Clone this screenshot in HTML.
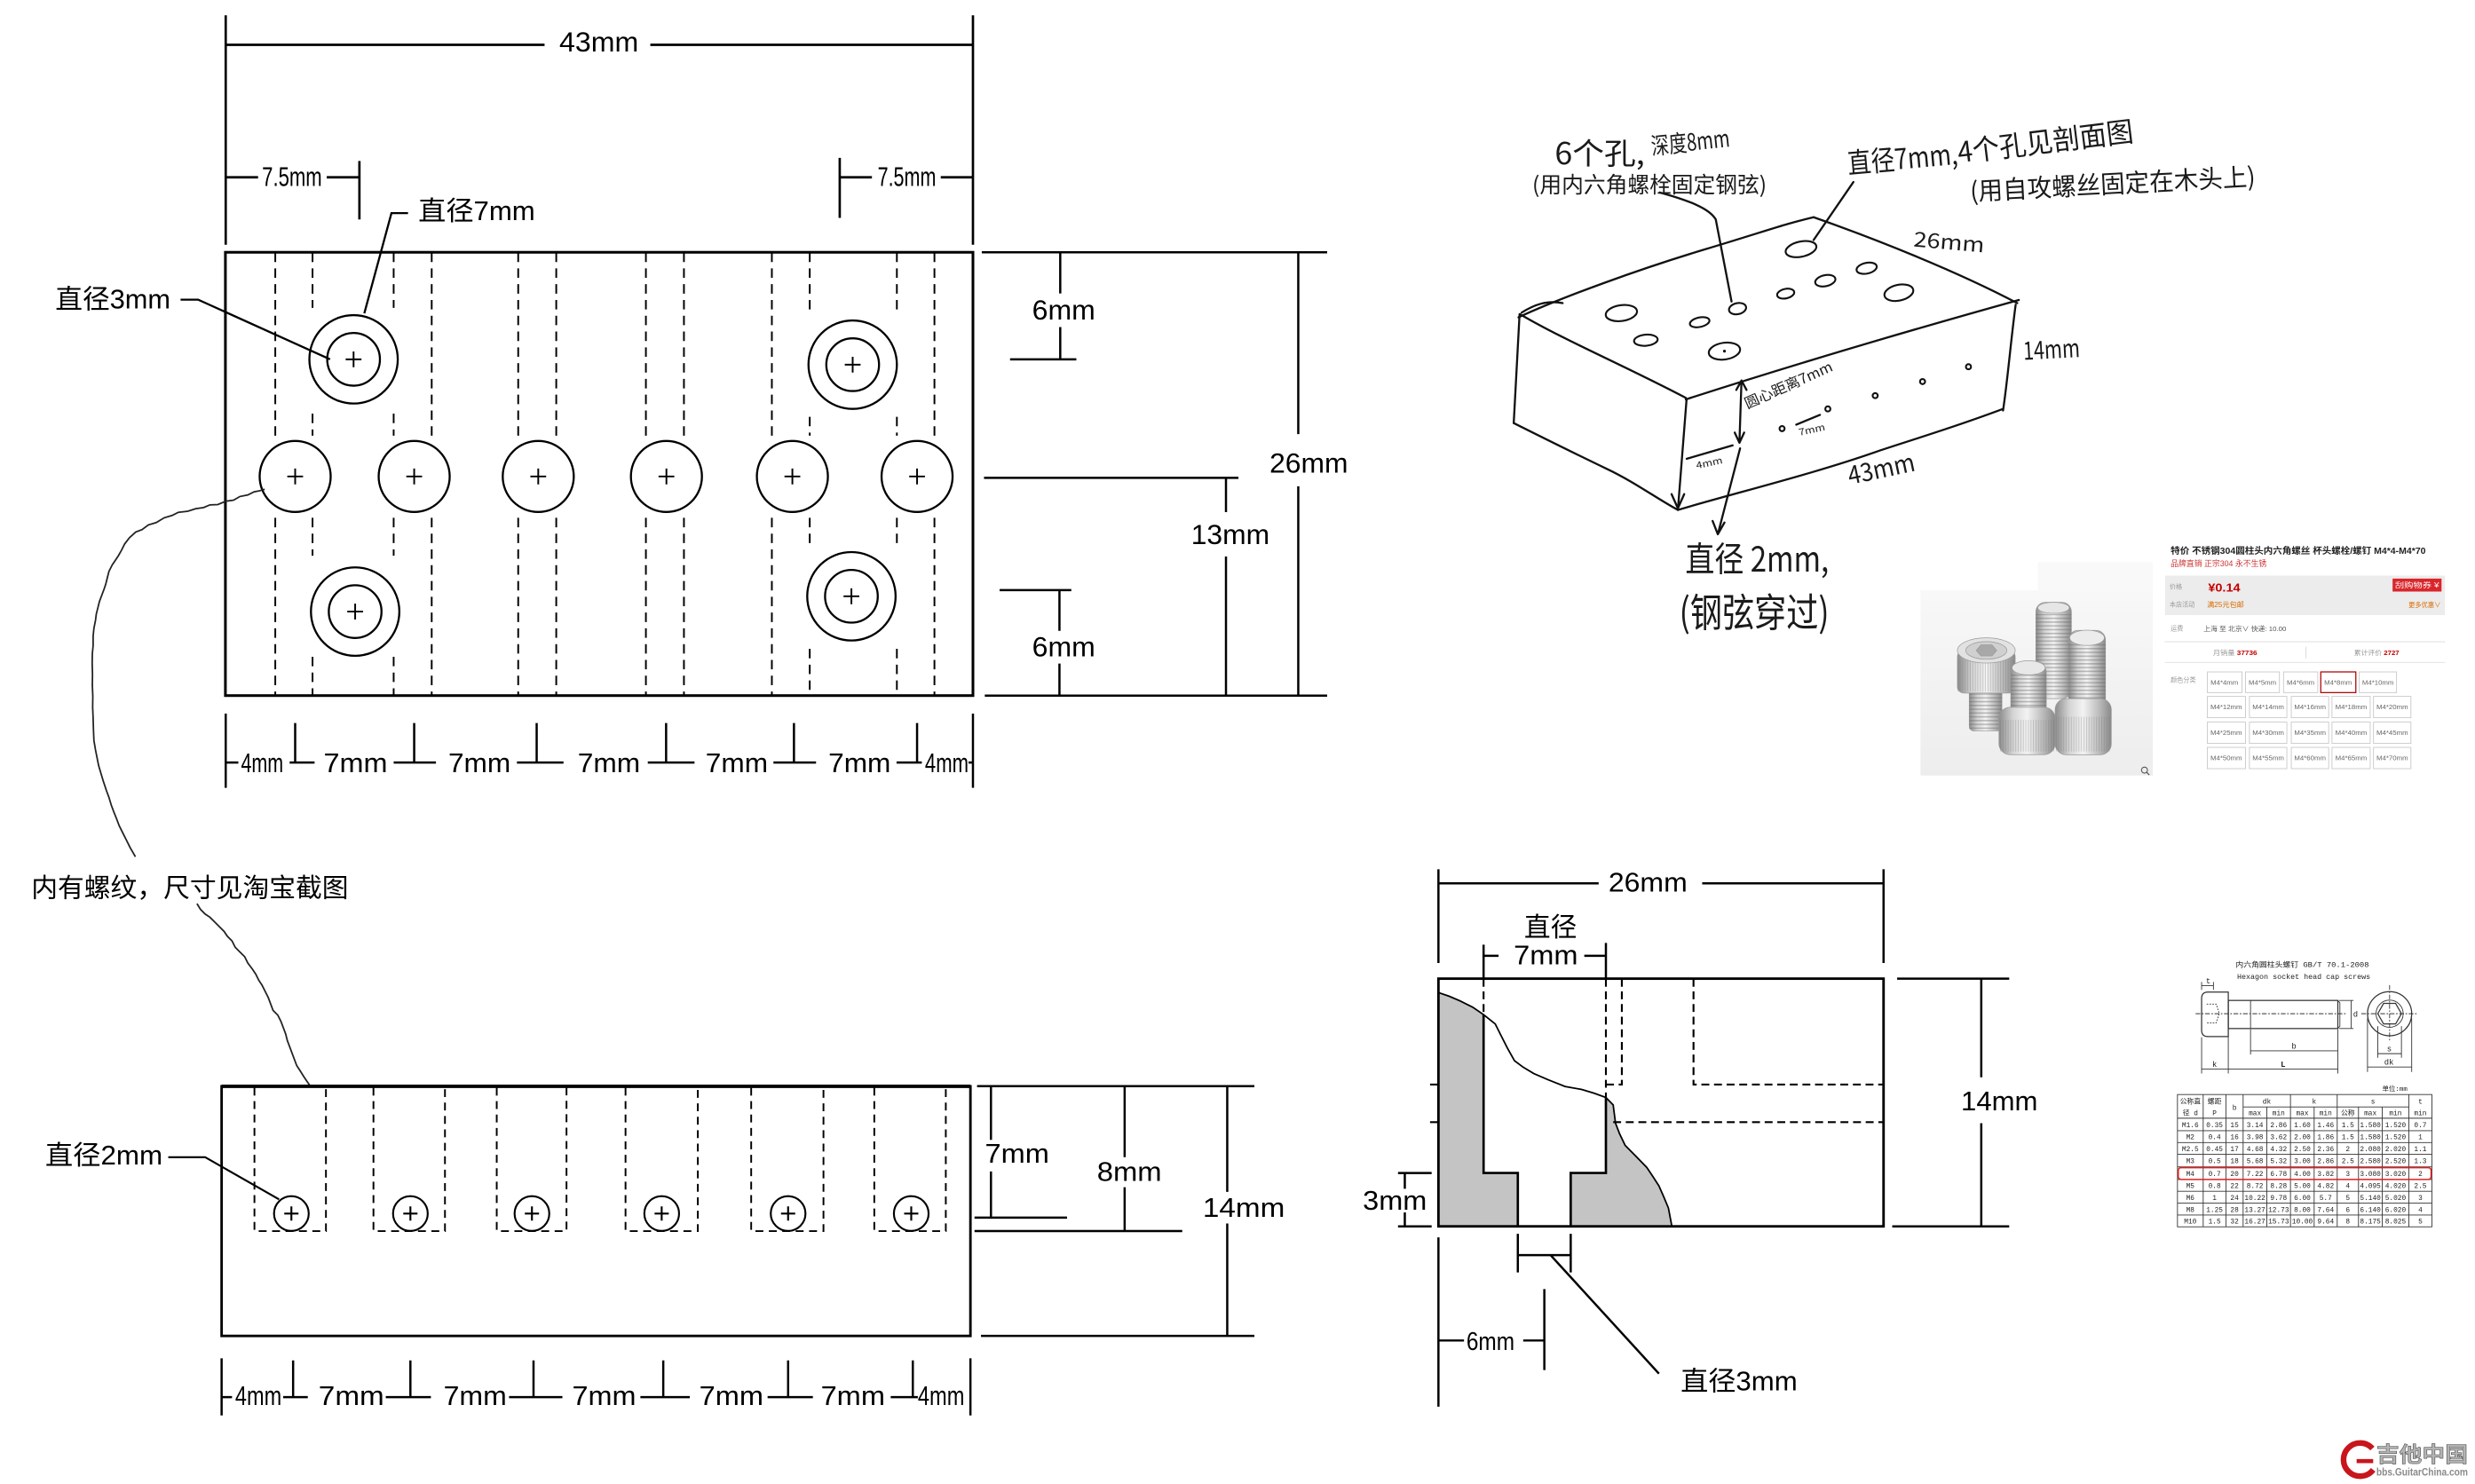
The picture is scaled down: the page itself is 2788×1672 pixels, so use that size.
<!DOCTYPE html>
<html><head><meta charset="utf-8">
<style>
html,body{margin:0;padding:0;background:#fff;}
svg{display:block;}
text{font-family:"Liberation Sans","Noto Sans CJK SC",sans-serif;fill:#000;}
.h{font-family:"Noto Sans CJK SC","WenQuanYi Zen Hei",sans-serif;fill:#1a1a1a;}
.m{font-family:"Liberation Mono","Noto Sans CJK SC",monospace;fill:#222;}
</style></head><body>
<svg width="2788" height="1672" viewBox="0 0 1568 940" preserveAspectRatio="none" xmlns="http://www.w3.org/2000/svg">
<defs>
<linearGradient id="photo" x1="0" y1="0" x2="0" y2="1"><stop offset="0" stop-color="#f8f8f8"/><stop offset="1" stop-color="#ededed"/></linearGradient>
<linearGradient id="silver" x1="0" y1="0" x2="1" y2="0"><stop offset="0" stop-color="#8c8c8c"/><stop offset="0.25" stop-color="#d4d4d4"/><stop offset="0.5" stop-color="#f3f3f3"/><stop offset="0.78" stop-color="#bcbcbc"/><stop offset="1" stop-color="#8a8a8a"/></linearGradient>
<pattern id="thread" width="4" height="2.4" patternUnits="userSpaceOnUse"><rect width="4" height="0.9" fill="#666" opacity="0.4"/></pattern>
<pattern id="knurl" width="1.6" height="4" patternUnits="userSpaceOnUse"><rect width="0.5" height="4" fill="#777" opacity="0.35"/></pattern>
</defs>
<rect width="1568" height="940" fill="#fff"/>

<!-- ================= TOP VIEW ================= -->
<g stroke="#000" stroke-width="1.5" fill="none">
<path d="M143,9.7V155M616.4,9.7V155M143,28.4H345M412,28.4H616.4"/>
<path d="M143,112.3H163.5M207,112.3H227.7M227.7,102V139"/>
<path d="M532,100V138M532,112.3H552.4M596,112.3H616.4"/>
<path d="M258.5,135H248L230.8,198.5" stroke-width="1.3"/>
<path d="M114.4,189.8H125.5L209.1,227.6" stroke-width="1.3"/>
<rect x="142.8" y="159.8" width="473.6" height="280.8" stroke-width="1.7"/>
</g>
<g stroke="#000" stroke-width="1.1" fill="none" stroke-dasharray="6 4">
<path d="M174.4,160V276M174.4,328V440.6M273.5,160V276M273.5,328V440.6M328.3,160V276M328.3,328V440.6M352.4,160V276M352.4,328V440.6M409.2,160V276M409.2,328V440.6M433.3,160V276M433.3,328V440.6M489,160V276M489,328V440.6M592,160V276M592,328V440.6"/>
<path d="M198,160V195M198,262V276M198,328V352M198,416V440.6M249.4,160V195M249.4,262V276M249.4,328V352M249.4,416V440.6"/>
<path d="M513,160V198M513,264V276M513,328V344M513,411V440.6M568.2,160V198M568.2,264V276M568.2,328V344M568.2,411V440.6"/>
</g>
<g stroke="#000" stroke-width="1.3" fill="none">
<circle cx="187" cy="301.8" r="22.5"/><circle cx="262.4" cy="301.8" r="22.5"/><circle cx="341" cy="301.8" r="22.5"/>
<circle cx="422.2" cy="301.8" r="22.5"/><circle cx="502" cy="301.8" r="22.5"/><circle cx="581" cy="301.8" r="22.5"/>
<circle cx="224" cy="227.6" r="28"/><circle cx="224" cy="227.6" r="16.7"/>
<circle cx="540.2" cy="231" r="28"/><circle cx="540.2" cy="231" r="16.7"/>
<circle cx="225" cy="387.4" r="28"/><circle cx="225" cy="387.4" r="16.7"/>
<circle cx="539.4" cy="377.7" r="28"/><circle cx="539.4" cy="377.7" r="16.7"/>
<path d="M182,301.8h10M187,296.8v10M257.4,301.8h10M262.4,296.8v10M336,301.8h10M341,296.8v10M417.2,301.8h10M422.2,296.8v10M497,301.8h10M502,296.8v10M576,301.8h10M581,296.8v10M219,227.6h10M224,222.6v10M535.2,231h10M540.2,226v10M220,387.4h10M225,382.4v10M534.4,377.7h10M539.4,372.7v10" stroke-width="1.1"/>
</g>
<text x="354.3" y="32.5" font-size="17.5" textLength="50.2" lengthAdjust="spacingAndGlyphs">43mm</text>
<text x="166" y="117.8" font-size="17" textLength="38" lengthAdjust="spacingAndGlyphs">7.5mm</text>
<text x="556" y="117.8" font-size="17" textLength="37" lengthAdjust="spacingAndGlyphs">7.5mm</text>
<text x="265" y="139.5" font-size="17" textLength="74" lengthAdjust="spacingAndGlyphs">直径7mm</text>
<text x="35" y="195.3" font-size="17" textLength="73" lengthAdjust="spacingAndGlyphs">直径3mm</text>

<!-- bottom dims top view -->
<g stroke="#000" stroke-width="1.4" fill="none">
<path d="M143,452V499M616.4,452V499M187,458V483M262.4,458V483M340,458V483M422,458V483M503,458V483M581,458V483"/>
<path d="M143,483H151M183.5,483H199.3M249.4,483H276.2M327.5,483H357M410.4,483H440M490,483H517M568,483H584M613.6,483H616.4"/>
</g>
<g font-size="17">
<text x="152.7" y="489" textLength="26.8" lengthAdjust="spacingAndGlyphs">4mm</text>
<text x="205" y="489" textLength="40.5" lengthAdjust="spacingAndGlyphs">7mm</text>
<text x="284" y="489" textLength="39.5" lengthAdjust="spacingAndGlyphs">7mm</text>
<text x="366" y="489" textLength="39.6" lengthAdjust="spacingAndGlyphs">7mm</text>
<text x="447" y="489" textLength="39.5" lengthAdjust="spacingAndGlyphs">7mm</text>
<text x="524.8" y="489" textLength="39.5" lengthAdjust="spacingAndGlyphs">7mm</text>
<text x="586" y="489" textLength="27.6" lengthAdjust="spacingAndGlyphs">4mm</text>
</g>

<!-- right dims top view -->
<g stroke="#000" stroke-width="1.4" fill="none">
<path d="M622,159.8H840.8M623.9,440.6H840.8M822.5,159.8V275M822.5,308V440.6"/>
<path d="M623.4,302.7H784.6M776.7,302.7V324.4M776.7,352.5V440.6"/>
<path d="M671.7,159.8V185.9M671.7,207.2V227.6M639.9,227.6H681.9"/>
<path d="M633.3,373.8H678.7M671.2,373.8V399.6M671.2,420.3V440.6"/>
</g>
<text x="804.3" y="299.5" font-size="17.5" textLength="49.7" lengthAdjust="spacingAndGlyphs">26mm</text>
<text x="754.6" y="344.5" font-size="17.5" textLength="49.7" lengthAdjust="spacingAndGlyphs">13mm</text>
<text x="653.9" y="202.4" font-size="17.5" textLength="40" lengthAdjust="spacingAndGlyphs">6mm</text>
<text x="653.9" y="415.8" font-size="17.5" textLength="40" lengthAdjust="spacingAndGlyphs">6mm</text>

<!-- wavy leaders -->
<g stroke="#222" stroke-width="1" fill="none">
<polyline points="167.7,309.9 164,311 161,311.5 157,313.5 152,314.5 148,316.8 143,317.5 138,319.6 133,319.8 129,321.5 124,322.2 119,323.8 113,324.5 109,326.5 104,328 99,331 94,332.5 90,335.5 86,337 82,340.6 79,344.5 77,348.5 75,352 73,355 71,358 69,362 68,366 67,370 66,373 64.5,377 63,381 62,385 61,389 60.5,393 59.5,398 59,403 59,409 58.5,414 58.4,420 58.6,427 58.5,434 58.8,441 58.7,448 59,455 59.2,462 59.5,469 60.5,475 61.5,480 62.5,485 64,490 65.5,495 67.5,501 69,505 70.5,510 72,514 74,519 75.5,523 78,528 80,532 82.5,537 85.8,542.7"/>
<polyline points="124.8,572.4 127,576 130,579 133,581 136,584 139,587 142,590 144,593 147,596 149,600 152,603 155,606 157,610 160,614 162,617 164,621 166,624 168,628 170,632 171.5,636 173,640 176,643 178,647 179.5,651 181,655 182,659 183.5,663 185,667 186.5,671 188,675 190,678 192.5,682 194.5,685 196.6,688"/>
</g>
<text x="19.8" y="568" font-size="16.5" textLength="201" lengthAdjust="spacingAndGlyphs">内有螺纹，尺寸见淘宝截图</text>

<!-- ================= FRONT VIEW ================= -->
<g stroke="#000" fill="none">
<rect x="140.4" y="688.1" width="474.4" height="158.1" stroke-width="1.6"/>
<path d="M140.4,688.1H614.8" stroke-width="2.2"/>
<g stroke-width="1.1" stroke-dasharray="5 3.5">
<path d="M161.2,689V779.8H206.5V689M236.6,689V779.8H281.9V689M314.7,689V779.8H358.9V689M396.3,689V779.8H442.1V689M475.9,689V779.8H521.7V689M553.9,689V779.8H599.2V689"/>
</g>
<g stroke-width="1.2">
<circle cx="184.6" cy="768.7" r="11"/><circle cx="260" cy="768.7" r="11"/><circle cx="337" cy="768.7" r="11"/>
<circle cx="419.2" cy="768.7" r="11"/><circle cx="499.3" cy="768.7" r="11"/><circle cx="577.3" cy="768.7" r="11"/>
<path d="M180.1,768.7h9M184.6,764.2v9M255.5,768.7h9M260,764.2v9M332.5,768.7h9M337,764.2v9M414.7,768.7h9M419.2,764.2v9M494.8,768.7h9M499.3,764.2v9M572.8,768.7h9M577.3,764.2v9"/>
<path d="M106.6,733H130L176.8,759.7"/>
</g>
<g stroke-width="1.4">
<path d="M627.8,688V722M627.8,742V771.3M617.4,771.3H676"/>
<path d="M712.5,688V733M712.5,752V779.8M617.4,779.8H749"/>
<path d="M777.5,688V755M777.5,775V846.2M619,688H794.7M621.5,846.2H794.7"/>
<path d="M140.4,860.4V896.6M614.8,860.4V896.6M185.7,861.7V885M260,861.7V885M338,861.7V885M420.2,861.7V885M499.3,861.7V885M578.3,861.7V885"/>
<path d="M140.4,885H147M179.4,885H195M244.4,885H273M322.5,885H356.3M405.7,885H437M486.3,885H515M564.3,885H581.5"/>
</g>
</g>
<text x="28.6" y="737.5" font-size="17" textLength="74.4" lengthAdjust="spacingAndGlyphs">直径2mm</text>
<text x="624" y="736.5" font-size="17" textLength="40.7" lengthAdjust="spacingAndGlyphs">7mm</text>
<text x="695" y="748" font-size="17" textLength="41" lengthAdjust="spacingAndGlyphs">8mm</text>
<text x="762" y="770.8" font-size="17" textLength="52" lengthAdjust="spacingAndGlyphs">14mm</text>
<g font-size="17">
<text x="149" y="890" textLength="29.4" lengthAdjust="spacingAndGlyphs">4mm</text>
<text x="201.8" y="890" textLength="41.6" lengthAdjust="spacingAndGlyphs">7mm</text>
<text x="281" y="890" textLength="40" lengthAdjust="spacingAndGlyphs">7mm</text>
<text x="362.5" y="890" textLength="40.5" lengthAdjust="spacingAndGlyphs">7mm</text>
<text x="443" y="890" textLength="40.7" lengthAdjust="spacingAndGlyphs">7mm</text>
<text x="520" y="890" textLength="40.7" lengthAdjust="spacingAndGlyphs">7mm</text>
<text x="581.5" y="890" textLength="29.5" lengthAdjust="spacingAndGlyphs">4mm</text>
</g>

<!-- ================= SECTION VIEW ================= -->
<path d="M911.3,628.7 L918,631 L925,634 L933,638 L939.9,642.7 L939.9,743 L961.6,743 L961.6,776.8 L911.3,776.8Z" fill="#c4c4c4"/>
<path d="M1017.4,695.2 L1022,699.9 L1023.5,711.5 L1026,718 L1029.6,725.5 L1036,732 L1043.3,739.5 L1047,745 L1051,751.2 L1054,758 L1057,765.2 L1059.2,776.8 L995.1,776.8 L995.1,743 L1017.4,743Z" fill="#c4c4c4"/>
<g stroke="#000" fill="none">
<rect x="911.3" y="619.9" width="282" height="156.9" stroke-width="1.6"/>
<path d="M939.9,642.7V743H961.6V776.8M995.1,776.8V743H1017.4V695.2" stroke-width="1.5"/>
<polyline stroke-width="1" points="911.3,628.7 918,631 925,634 933,638 939.9,642.7 947.3,648.6 951,656 954.9,663.7 959.5,671.9 965,676 971.7,680 981,684 991.5,688.2 1002.1,690.1 1010,692.5 1017.4,695.2 1022,699.9 1023.5,711.5 1026,718 1029.6,725.5 1036,732 1043.3,739.5 1047,745 1051,751.2 1054,758 1057,765.2 1059.2,776.8"/>
<g stroke-width="1.2" stroke-dasharray="5 3">
<path d="M939.9,620V642.7M1017.4,620V695.2M1027.5,620V687H1017.4M1072.9,620V687H1193.3M1022,710.8H1193.3"/>
</g>
<path d="M906,687H911.3M906,710.8H911.3" stroke-width="1.2"/>
<g stroke-width="1.4">
<path d="M911.3,550.6V610M1193.3,550.6V610M911.3,559.5H1012.8M1078.4,559.5H1193.3"/>
<path d="M939.9,598.4V620M1017.4,597.3V620M939.9,605.4H949.4M1003.7,605.4H1017.4"/>
<path d="M890,743V753M890,768V776.8M885.7,743H907M885.7,776.8H907"/>
<path d="M1255.2,619.9V682.4M1255.2,711.5V776.8M1201.9,619.9H1272.9M1198.8,776.8H1272.9"/>
<path d="M911.3,783.8V891M978.4,816.5V867.8M911.3,849.1H927.5M965,849.1H978.4"/>
<path d="M961.6,781.5V806M995.1,781.5V806M961.6,795H995.1M982.3,795L1051,870.1"/>
</g>
</g>
<text x="1019" y="564.6" font-size="17" textLength="50" lengthAdjust="spacingAndGlyphs">26mm</text>
<text x="965.6" y="593" font-size="17" textLength="33.4" lengthAdjust="spacingAndGlyphs">直径</text>
<text x="959" y="610.8" font-size="17" textLength="40.7" lengthAdjust="spacingAndGlyphs">7mm</text>
<text x="1242.4" y="703.4" font-size="17" textLength="48.6" lengthAdjust="spacingAndGlyphs">14mm</text>
<text x="863.4" y="766.3" font-size="17" textLength="40.6" lengthAdjust="spacingAndGlyphs">3mm</text>
<text x="929" y="855" font-size="16" textLength="30.5" lengthAdjust="spacingAndGlyphs">6mm</text>
<text x="1064.7" y="880.6" font-size="17" textLength="74" lengthAdjust="spacingAndGlyphs">直径3mm</text>

<!-- ================= HAND SKETCH ================= -->
<g stroke="#111" stroke-width="1.3" fill="none" stroke-linecap="round" stroke-linejoin="round">
<path d="M962,201 C990,188 1040,170 1080,158 S1130,142 1149,137.6"/>
<path d="M964,198 C972,193 980,190 990,192"/>
<path d="M1149,137.6 C1190,152 1240,172 1278,192"/>
<path d="M963,199 C990,215 1030,232 1068,252"/>
<path d="M1068,253 C1130,233 1200,212 1279,190"/>
<path d="M962.7,199 L959,268M1068.5,253 L1063,323M1277,193 C1274,215 1272,240 1269,260"/>
<path d="M959,268 C975,276 995,286 1018,297 C1035,305 1050,316 1063,323"/>
<path d="M1063,323 C1100,312 1150,300 1192,285 C1220,276 1245,268 1269,259"/>
<path d="M1059,313 L1063,322 L1067,313"/>
<path d="M1174.2,115.3 L1149,152"/>
<path d="M1051.5,121.9 C1070,127 1083,132 1087,139 L1097,191"/>
<path d="M1103.3,241 L1102,280M1100,247 L1103.3,241 L1106.5,247M1099,274 L1102,280.5 L1105,274"/>
<path d="M1102.4,284 L1088.3,338.4M1085,330 L1088.3,338.4 L1092.5,331"/>
<path d="M1068.6,290.6 L1097.7,282.1M1138,269 L1153,262.8"/>
<g stroke-width="1.2">
<ellipse cx="1141" cy="157.8" rx="9.9" ry="4.8" transform="rotate(-12 1141 157.8)"/>
<ellipse cx="1182.6" cy="169.9" rx="6.5" ry="3.4" transform="rotate(-12 1182.6 169.9)"/>
<ellipse cx="1156.4" cy="177.8" rx="6.5" ry="3.5" transform="rotate(-12 1156.4 177.8)"/>
<ellipse cx="1131.3" cy="186" rx="5.5" ry="3" transform="rotate(-12 1131.3 186)"/>
<ellipse cx="1203" cy="185.4" rx="9.3" ry="5" transform="rotate(-12 1203 185.4)"/>
<ellipse cx="1100.8" cy="195.5" rx="5.5" ry="3.5" transform="rotate(-12 1100.8 195.5)"/>
<ellipse cx="1027.2" cy="198.3" rx="10" ry="5" transform="rotate(-8 1027.2 198.3)"/>
<ellipse cx="1076.8" cy="204.1" rx="6.3" ry="3" transform="rotate(-12 1076.8 204.1)"/>
<ellipse cx="1042.7" cy="215.5" rx="7.5" ry="3.5" transform="rotate(-5 1042.7 215.5)"/>
<ellipse cx="1092.5" cy="222.4" rx="10" ry="5.3" transform="rotate(-8 1092.5 222.4)"/>
<circle cx="1247.1" cy="232.3" r="1.6"/><circle cx="1218" cy="241.7" r="1.6"/><circle cx="1188" cy="250.6" r="1.6"/>
<circle cx="1158" cy="259" r="1.6"/><circle cx="1129" cy="271.5" r="1.6"/>
</g>
</g>
<circle cx="1092.5" cy="222.4" r="0.9" fill="#111"/>
<text class="h" x="1107" y="259" font-size="9" textLength="60" lengthAdjust="spacingAndGlyphs" transform="rotate(-24 1107 259)">圆心距离7mm</text>
<text class="h" x="1075" y="297" font-size="6" textLength="17" lengthAdjust="spacingAndGlyphs" transform="rotate(-12 1075 297)">4mm</text>
<text class="h" x="1140" y="276" font-size="6" textLength="17" lengthAdjust="spacingAndGlyphs" transform="rotate(-12 1140 276)">7mm</text>
<text class="h" x="1212" y="156" font-size="13" textLength="45" lengthAdjust="spacingAndGlyphs" transform="rotate(5 1212 156)">26mm</text>
<text class="h" x="1282" y="228" font-size="16" textLength="36" lengthAdjust="spacingAndGlyphs" transform="rotate(-3 1282 228)">14mm</text>
<text class="h" x="1172" y="307" font-size="16" textLength="43" lengthAdjust="spacingAndGlyphs" transform="rotate(-12 1172 307)">43mm</text>
<text class="h" x="985" y="104" font-size="19" textLength="57" lengthAdjust="spacingAndGlyphs">6个孔,</text>
<text class="h" x="1046.6" y="98" font-size="15" textLength="50" lengthAdjust="spacingAndGlyphs" transform="rotate(-6 1046.6 98)">深度8mm</text>
<text class="h" x="970.7" y="122" font-size="14" textLength="148.6" lengthAdjust="spacingAndGlyphs">(用内六角螺栓固定钢弦)</text>
<text class="h" x="1171" y="110" font-size="18" textLength="70" lengthAdjust="spacingAndGlyphs" transform="rotate(-5 1171 110)">直径7mm,</text>
<text class="h" x="1241" y="103" font-size="18" textLength="112" lengthAdjust="spacingAndGlyphs" transform="rotate(-7 1241 103)">4个孔见剖面图</text>
<text class="h" x="1248.4" y="127" font-size="16" textLength="181" lengthAdjust="spacingAndGlyphs" transform="rotate(-3 1248.4 127)">(用自攻螺丝固定在木头上)</text>
<text class="h" x="1067.7" y="362" font-size="22" textLength="91" lengthAdjust="spacingAndGlyphs">直径 2mm,</text>
<text class="h" x="1063.9" y="397" font-size="25" textLength="95" lengthAdjust="spacingAndGlyphs">(钢弦穿过)</text>

<!-- ================= PRODUCT PHOTO ================= -->
<rect x="1216.7" y="374" width="147.2" height="117.2" fill="url(#photo)"/>
<rect x="1291" y="356" width="72.9" height="18" fill="#f9f9f9"/>
<g stroke="#999" stroke-width="0.4">
<!-- back tall bolt -->
<rect x="1289.8" y="381.5" width="22.5" height="61" rx="6" fill="url(#silver)"/>
<rect x="1289.8" y="389" width="22.5" height="52" fill="url(#thread)" stroke="none"/>
<ellipse cx="1301" cy="385" rx="10" ry="3.5" fill="#e6e6e6"/>
<!-- left bolt (head up) -->
<rect x="1247.6" y="436" width="20.7" height="27" rx="3" fill="url(#silver)"/>
<rect x="1247.6" y="439" width="20.7" height="23" fill="url(#thread)" stroke="none"/>
<rect x="1240.1" y="412" width="36.6" height="27" rx="4" fill="url(#silver)"/>
<rect x="1240.1" y="418" width="36.6" height="20" fill="url(#knurl)" stroke="none"/>
<ellipse cx="1258.4" cy="412" rx="18.3" ry="8" fill="#e2e2e2"/>
<ellipse cx="1258.4" cy="412" rx="13" ry="5.6" fill="#d0d0d0"/>
<polygon points="1252,412 1255,408.5 1262,408.5 1265,412 1262,415.5 1255,415.5" fill="#a8a8a8"/>
<!-- middle bolt (head down) -->
<rect x="1273.9" y="420" width="22.5" height="38" rx="6" fill="url(#silver)"/>
<rect x="1273.9" y="427" width="22.5" height="30" fill="url(#thread)" stroke="none"/>
<ellipse cx="1285.2" cy="423" rx="10.5" ry="4.5" fill="#e8e8e8"/>
<rect x="1266.4" y="448" width="35.6" height="30" rx="7" fill="url(#silver)"/>
<rect x="1267" y="456" width="34.4" height="20" fill="url(#knurl)" stroke="none"/>
<!-- right bolt (head down) -->
<rect x="1310.5" y="399.3" width="23.4" height="54" rx="6" fill="url(#silver)"/>
<rect x="1310.5" y="407" width="23.4" height="46" fill="url(#thread)" stroke="none"/>
<ellipse cx="1322.2" cy="404" rx="11" ry="4.8" fill="#ececec"/>
<rect x="1302" y="442.5" width="35.6" height="35.6" rx="7" fill="url(#silver)"/>
<rect x="1302.6" y="454" width="34.4" height="22" fill="url(#knurl)" stroke="none"/>
</g>
<circle cx="1358.6" cy="487.8" r="1.9" fill="none" stroke="#555" stroke-width="0.6"/><path d="M1360,489.2l1.7,1.7" stroke="#555" stroke-width="0.7"/>

<!-- product panel -->
<text x="1375.2" y="350.8" font-size="5.6" font-weight="bold" textLength="161.6" lengthAdjust="spacingAndGlyphs" style="fill:#222">特价 不锈钢304圆柱头内六角螺丝 杯头螺栓/螺钉 M4*4-M4*70</text>
<text x="1375.2" y="358.6" font-size="5" textLength="60.8" lengthAdjust="spacingAndGlyphs" style="fill:#c33">品牌直销 正宗304 永不生锈</text>
<rect x="1371.6" y="364.6" width="177.4" height="25" fill="#ececec"/>
<text x="1374.5" y="373" font-size="4" style="fill:#999">价格</text>
<text x="1398.9" y="374.8" font-size="7.5" font-weight="bold" textLength="20.4" lengthAdjust="spacingAndGlyphs" style="fill:#c40000">¥0.14</text>
<rect x="1515.8" y="366.5" width="31" height="8.2" fill="#d9262b"/>
<text x="1517.3" y="372.3" font-size="4.4" textLength="28" lengthAdjust="spacingAndGlyphs" style="fill:#fff">刮购物券 ¥</text>
<text x="1374.5" y="384.3" font-size="4" style="fill:#999">本店活动</text>
<text x="1398.2" y="384.5" font-size="4.6" style="fill:#d96a00">满25元包邮</text>
<text x="1525.9" y="384.5" font-size="4.2" textLength="20.4" lengthAdjust="spacingAndGlyphs" style="fill:#d96a00">更多优惠∨</text>
<text x="1375.2" y="399.4" font-size="4" style="fill:#999">运费</text>
<text x="1396" y="399.6" font-size="4.2" textLength="52.4" lengthAdjust="spacingAndGlyphs" style="fill:#555">上海 至 北京∨ 快递: 10.00</text>
<path d="M1371.5,406.5H1549M1371.5,419.6H1549" stroke="#e2e2e2" stroke-width="0.6"/>
<path d="M1460.9,409.5V417" stroke="#ddd" stroke-width="0.6"/>
<text x="1402" y="414.8" font-size="4.3" textLength="28" lengthAdjust="spacingAndGlyphs" style="fill:#999">月销量 <tspan style="fill:#c40000" font-weight="bold">37736</tspan></text>
<text x="1491.4" y="414.8" font-size="4.3" textLength="28.6" lengthAdjust="spacingAndGlyphs" style="fill:#999">累计评价 <tspan style="fill:#c40000" font-weight="bold">2727</tspan></text>
<text x="1375.2" y="432" font-size="4" style="fill:#999">颜色分类</text>
<g fill="#fff" stroke="#c8c8c8" stroke-width="0.5">
<rect x="1398.4" y="425.6" width="22" height="13.1"/><rect x="1422.6" y="425.6" width="21.5" height="13.1"/><rect x="1446.7" y="425.6" width="21.7" height="13.1"/><rect x="1470.3" y="425.6" width="22.2" height="13.1" stroke="#a00" stroke-width="0.7"/><rect x="1494.7" y="425.6" width="23.6" height="13.1"/>
<rect x="1398.4" y="441.1" width="24.2" height="13.5"/><rect x="1425.1" y="441.1" width="23.7" height="13.5"/><rect x="1451.6" y="441.1" width="23.7" height="13.5"/><rect x="1477.4" y="441.1" width="24.2" height="13.5"/><rect x="1503.7" y="441.1" width="23.7" height="13.5"/>
<rect x="1398.4" y="457.4" width="24.2" height="13.5"/><rect x="1425.1" y="457.4" width="23.7" height="13.5"/><rect x="1451.6" y="457.4" width="23.7" height="13.5"/><rect x="1477.4" y="457.4" width="24.2" height="13.5"/><rect x="1503.7" y="457.4" width="23.7" height="13.5"/>
<rect x="1398.4" y="473.4" width="24.2" height="13.5"/><rect x="1425.1" y="473.4" width="23.7" height="13.5"/><rect x="1451.6" y="473.4" width="23.7" height="13.5"/><rect x="1477.4" y="473.4" width="24.2" height="13.5"/><rect x="1503.7" y="473.4" width="23.7" height="13.5"/>
</g>
<g font-size="4.2" style="fill:#666">
<text x="1400.5" y="433.6" textLength="17.5" lengthAdjust="spacingAndGlyphs" style="fill:#666">M4*4mm</text>
<text x="1424.6" y="433.6" textLength="17.5" lengthAdjust="spacingAndGlyphs" style="fill:#666">M4*5mm</text>
<text x="1448.8" y="433.6" textLength="17.5" lengthAdjust="spacingAndGlyphs" style="fill:#666">M4*6mm</text>
<text x="1472.5" y="433.6" textLength="17.5" lengthAdjust="spacingAndGlyphs" style="fill:#666">M4*8mm</text>
<text x="1496.5" y="433.6" textLength="20" lengthAdjust="spacingAndGlyphs" style="fill:#666">M4*10mm</text>
<text x="1400.4" y="449.3" textLength="20" lengthAdjust="spacingAndGlyphs" style="fill:#666">M4*12mm</text>
<text x="1427" y="449.3" textLength="20" lengthAdjust="spacingAndGlyphs" style="fill:#666">M4*14mm</text>
<text x="1453.5" y="449.3" textLength="20" lengthAdjust="spacingAndGlyphs" style="fill:#666">M4*16mm</text>
<text x="1479.5" y="449.3" textLength="20" lengthAdjust="spacingAndGlyphs" style="fill:#666">M4*18mm</text>
<text x="1505.6" y="449.3" textLength="20" lengthAdjust="spacingAndGlyphs" style="fill:#666">M4*20mm</text>
<text x="1400.4" y="465.6" textLength="20" lengthAdjust="spacingAndGlyphs" style="fill:#666">M4*25mm</text>
<text x="1427" y="465.6" textLength="20" lengthAdjust="spacingAndGlyphs" style="fill:#666">M4*30mm</text>
<text x="1453.5" y="465.6" textLength="20" lengthAdjust="spacingAndGlyphs" style="fill:#666">M4*35mm</text>
<text x="1479.5" y="465.6" textLength="20" lengthAdjust="spacingAndGlyphs" style="fill:#666">M4*40mm</text>
<text x="1505.6" y="465.6" textLength="20" lengthAdjust="spacingAndGlyphs" style="fill:#666">M4*45mm</text>
<text x="1400.4" y="481.6" textLength="20" lengthAdjust="spacingAndGlyphs" style="fill:#666">M4*50mm</text>
<text x="1427" y="481.6" textLength="20" lengthAdjust="spacingAndGlyphs" style="fill:#666">M4*55mm</text>
<text x="1453.5" y="481.6" textLength="20" lengthAdjust="spacingAndGlyphs" style="fill:#666">M4*60mm</text>
<text x="1479.5" y="481.6" textLength="20" lengthAdjust="spacingAndGlyphs" style="fill:#666">M4*65mm</text>
<text x="1505.6" y="481.6" textLength="20" lengthAdjust="spacingAndGlyphs" style="fill:#666">M4*70mm</text>
</g>

<!-- ================= SCREW TABLE IMAGE ================= -->
<text class="m" x="1416.4" y="612.6" font-size="4.6" textLength="84.4" lengthAdjust="spacingAndGlyphs">内六角圆柱头螺钉 GB/T 70.1-2008</text>
<text class="m" x="1417.3" y="620.2" font-size="4.6" textLength="84.4" lengthAdjust="spacingAndGlyphs">Hexagon socket head cap screws</text>
<g stroke="#333" stroke-width="0.5" fill="none">
<path d="M1411.7,628.4H1398.8Q1394.8,628.4 1394.8,632.4V652.6Q1394.8,656.6 1398.8,656.6H1411.7Z" stroke-width="0.7"/>
<path d="M1398,636H1404L1406,642L1404,648H1398" stroke-dasharray="1 0.8"/>
<rect x="1411.7" y="633.7" width="69.4" height="17.8" stroke-width="0.7"/>
<path d="M1425.8,633.7V651.5M1481.1,633.7l1.3,1.5V650l-1.3,1.5"/>
<path d="M1391,642.1H1487" stroke-dasharray="3 1 1 1"/>
<path d="M1394.8,624.3H1402.3M1394.8,622V627M1402.3,622V627"/>
<path d="M1489.5,633.7V651.5M1482,633.7H1491M1482,651.5H1491"/>
<path d="M1394.8,657V680M1411.7,652V680M1481.1,652V680M1425.8,652V668"/>
<path d="M1425.8,665.6H1481.1M1394.8,677.2H1481.1"/>
<circle cx="1513.9" cy="642.1" r="14" stroke-width="0.7"/>
<circle cx="1513.9" cy="642.1" r="8.6"/>
<polygon points="1521.4,642.1 1517.7,648.6 1510.1,648.6 1506.4,642.1 1510.1,635.6 1517.7,635.6" stroke-width="0.7"/>
<path d="M1496,642.1H1532M1513.9,624V660" stroke-dasharray="3 1 1 1"/>
<path d="M1506.4,650V670M1521.4,650V670M1506.4,667.4H1521.4M1499.9,645V679M1527.9,645V679M1499.9,675.9H1527.9"/>
</g>
<g class="m" font-size="5" style="fill:#222">
<text x="1397.5" y="623" class="m">t</text>
<text x="1490.8" y="644" class="m">d</text>
<text x="1451.8" y="664.2" class="m">b</text>
<text x="1401.5" y="675.8" class="m">k</text>
<text x="1444.9" y="675.8" class="m" font-weight="bold">L</text>
<text x="1512.2" y="666" class="m">s</text>
<text x="1510.5" y="674.5" class="m">dk</text>
<text x="1509.2" y="691" class="m" font-size="4.2" textLength="16" lengthAdjust="spacingAndGlyphs">单位:mm</text>
</g>
<g stroke="#333" stroke-width="0.5" fill="none">
<rect x="1379.5" y="693.3" width="161.2" height="83.8"/>
<path d="M1421.1,701.2H1526.1M1379.5,708.3H1540.7M1379.5,716.2H1540.7M1379.5,723.7H1540.7M1379.5,731.2H1540.7M1379.5,739.1H1540.7M1379.5,747.1H1540.7M1379.5,754.6H1540.7M1379.5,762.1H1540.7M1379.5,769.6H1540.7"/>
<path d="M1395.8,693.3V777.1M1410.2,693.3V777.1M1421.1,693.3V777.1M1451.1,693.3V777.1M1480.7,693.3V777.1M1526.1,693.3V777.1M1436.1,701.2V777.1M1466.1,701.2V777.1M1494.2,701.2V777.1M1509.2,701.2V777.1"/>
</g>
<rect x="1380" y="739.6" width="160.2" height="7.5" rx="1.8" fill="none" stroke="#d22" stroke-width="0.9"/>
<g class="m" font-size="4.4" text-anchor="middle">
<text class="m" x="1387.65" y="699">公称直</text><text class="m" x="1387.65" y="706.5">径 d</text>
<text class="m" x="1403" y="699">螺距</text><text class="m" x="1403" y="706.5">P</text>
<text class="m" x="1415.65" y="703">b</text>
<text class="m" x="1436.1" y="699">dk</text><text class="m" x="1428.6" y="706.5">max</text><text class="m" x="1443.6" y="706.5">min</text>
<text class="m" x="1466.1" y="699">k</text><text class="m" x="1458.6" y="706.5">max</text><text class="m" x="1473.4" y="706.5">min</text>
<text class="m" x="1503.4" y="699">s</text><text class="m" x="1487.45" y="706.5">公称</text><text class="m" x="1501.7" y="706.5">max</text><text class="m" x="1517.65" y="706.5">min</text>
<text class="m" x="1533.4" y="699">t</text><text class="m" x="1533.4" y="706.5">min</text>
</g>
<g class="m" font-size="4.4" text-anchor="middle">
<text class="m" y="714"><tspan x="1387.65">M1.6</tspan><tspan x="1403">0.35</tspan><tspan x="1415.65">15</tspan><tspan x="1428.6">3.14</tspan><tspan x="1443.6">2.86</tspan><tspan x="1458.6">1.60</tspan><tspan x="1473.4">1.46</tspan><tspan x="1487.45">1.5</tspan><tspan x="1501.7">1.580</tspan><tspan x="1517.65">1.520</tspan><tspan x="1533.4">0.7</tspan></text>
<text class="m" y="721.7"><tspan x="1387.65">M2</tspan><tspan x="1403">0.4</tspan><tspan x="1415.65">16</tspan><tspan x="1428.6">3.98</tspan><tspan x="1443.6">3.62</tspan><tspan x="1458.6">2.00</tspan><tspan x="1473.4">1.86</tspan><tspan x="1487.45">1.5</tspan><tspan x="1501.7">1.580</tspan><tspan x="1517.65">1.520</tspan><tspan x="1533.4">1</tspan></text>
<text class="m" y="729.2"><tspan x="1387.65">M2.5</tspan><tspan x="1403">0.45</tspan><tspan x="1415.65">17</tspan><tspan x="1428.6">4.68</tspan><tspan x="1443.6">4.32</tspan><tspan x="1458.6">2.50</tspan><tspan x="1473.4">2.36</tspan><tspan x="1487.45">2</tspan><tspan x="1501.7">2.080</tspan><tspan x="1517.65">2.020</tspan><tspan x="1533.4">1.1</tspan></text>
<text class="m" y="736.9"><tspan x="1387.65">M3</tspan><tspan x="1403">0.5</tspan><tspan x="1415.65">18</tspan><tspan x="1428.6">5.68</tspan><tspan x="1443.6">5.32</tspan><tspan x="1458.6">3.00</tspan><tspan x="1473.4">2.86</tspan><tspan x="1487.45">2.5</tspan><tspan x="1501.7">2.580</tspan><tspan x="1517.65">2.520</tspan><tspan x="1533.4">1.3</tspan></text>
<text class="m" y="744.8"><tspan x="1387.65">M4</tspan><tspan x="1403">0.7</tspan><tspan x="1415.65">20</tspan><tspan x="1428.6">7.22</tspan><tspan x="1443.6">6.78</tspan><tspan x="1458.6">4.00</tspan><tspan x="1473.4">3.82</tspan><tspan x="1487.45">3</tspan><tspan x="1501.7">3.080</tspan><tspan x="1517.65">3.020</tspan><tspan x="1533.4">2</tspan></text>
<text class="m" y="752.6"><tspan x="1387.65">M5</tspan><tspan x="1403">0.8</tspan><tspan x="1415.65">22</tspan><tspan x="1428.6">8.72</tspan><tspan x="1443.6">8.28</tspan><tspan x="1458.6">5.00</tspan><tspan x="1473.4">4.82</tspan><tspan x="1487.45">4</tspan><tspan x="1501.7">4.095</tspan><tspan x="1517.65">4.020</tspan><tspan x="1533.4">2.5</tspan></text>
<text class="m" y="760.1"><tspan x="1387.65">M6</tspan><tspan x="1403">1</tspan><tspan x="1415.65">24</tspan><tspan x="1428.6">10.22</tspan><tspan x="1443.6">9.78</tspan><tspan x="1458.6">6.00</tspan><tspan x="1473.4">5.7</tspan><tspan x="1487.45">5</tspan><tspan x="1501.7">5.140</tspan><tspan x="1517.65">5.020</tspan><tspan x="1533.4">3</tspan></text>
<text class="m" y="767.6"><tspan x="1387.65">M8</tspan><tspan x="1403">1.25</tspan><tspan x="1415.65">28</tspan><tspan x="1428.6">13.27</tspan><tspan x="1443.6">12.73</tspan><tspan x="1458.6">8.00</tspan><tspan x="1473.4">7.64</tspan><tspan x="1487.45">6</tspan><tspan x="1501.7">6.140</tspan><tspan x="1517.65">6.020</tspan><tspan x="1533.4">4</tspan></text>
<text class="m" y="775.1"><tspan x="1387.65">M10</tspan><tspan x="1403">1.5</tspan><tspan x="1415.65">32</tspan><tspan x="1428.6">16.27</tspan><tspan x="1443.6">15.73</tspan><tspan x="1458.6">10.00</tspan><tspan x="1473.4">9.64</tspan><tspan x="1487.45">8</tspan><tspan x="1501.7">8.175</tspan><tspan x="1517.65">8.025</tspan><tspan x="1533.4">5</tspan></text>
</g>

<!-- ================= LOGO ================= -->
<path d="M1503,917.5 A10.5,10.5 0 1,0 1503.5,931" stroke="#c8161d" stroke-width="3.6" fill="none"/>
<path d="M1493,925.5h10.5" stroke="#c8161d" stroke-width="2.6"/>
<text x="1505.5" y="926" font-size="13.5" font-weight="bold" textLength="58" lengthAdjust="spacingAndGlyphs" style="fill:#b4b4b4;stroke:#555;stroke-width:0.35">吉他中国</text>
<text x="1505.5" y="934.6" font-size="6.6" font-weight="bold" textLength="58" lengthAdjust="spacingAndGlyphs" style="fill:#8a8a8a">bbs.GuitarChina.com</text>
</svg>
</body></html>
